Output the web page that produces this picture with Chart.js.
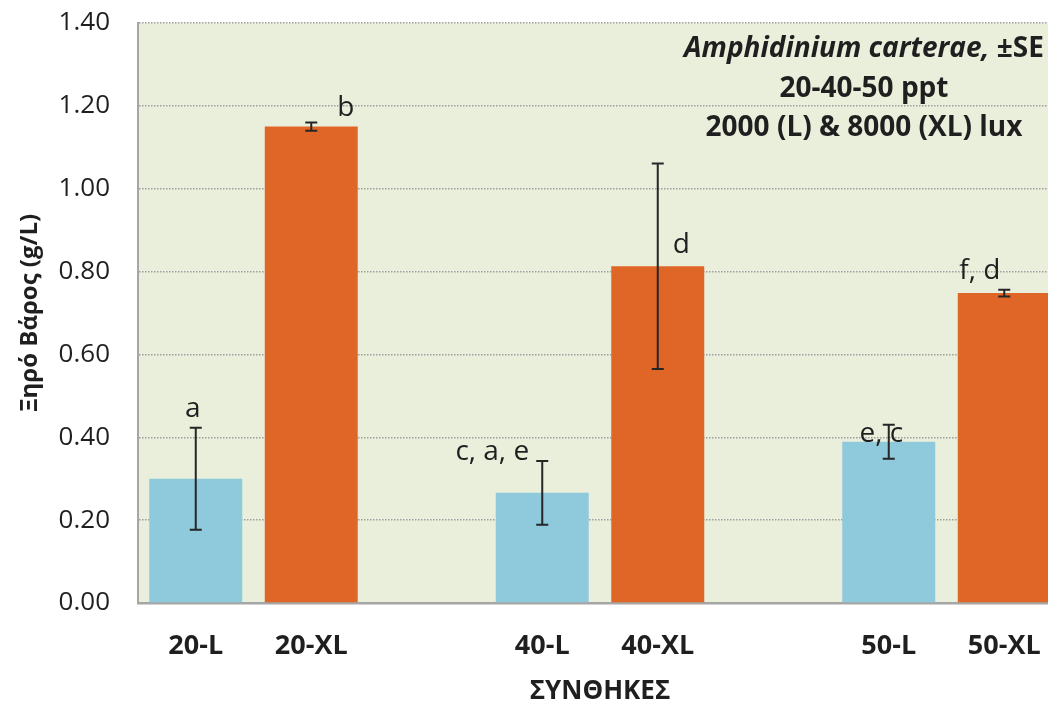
<!DOCTYPE html>
<html>
<head>
<meta charset="utf-8">
<script src="https://cdn.jsdelivr.net/npm/chart.js@4.4.1/dist/chart.umd.min.js"></script>
<style>
  html, body { margin: 0; padding: 0; overflow: hidden; background: #ffffff; }
  #wrap { position: relative; width: 1062px; height: 702px; }
</style>
</head>
<body>
<div id="wrap"><canvas id="chart"></canvas></div>
<script>
// Dry weight of Amphidinium carterae per salinity / light condition (blank slots separate the salinity groups)
const conditions   = ['20-L', '20-XL', '', '40-L', '40-XL', '', '50-L', '50-XL'];
const dryWeight    = [0.300, 1.150, null, 0.266, 0.813, null, 0.389, 0.748];
const stdError     = [0.123, 0.010, null, 0.077, 0.248, null, 0.041, 0.008];
const groupLetters = ['a', 'b', null, 'c, a, e', 'd', null, 'e, c', 'f, d'];
const yTickValues  = [0, 0.2, 0.4, 0.6, 0.8, 1.0, 1.2, 1.4];
const noteLines    = ['Amphidinium carterae,', '±SE', '20-40-50 ppt', '2000 (L) & 8000 (XL) lux'];

const FONT = "'Open Sans', 'Liberation Sans', sans-serif";
const LOW_LIGHT = '#8ECADB';
const HIGH_LIGHT = '#E06627';
const TEXT = '#1f1f1f';

const barColors = conditions.map(c => c.endsWith('XL') ? HIGH_LIGHT : LOW_LIGHT);

// Fills the plotting area with a pale olive tint
const plotBackground = {
  id: 'plotBackground',
  beforeDraw(chart) {
    const { ctx, chartArea: a } = chart;
    ctx.save();
    ctx.fillStyle = '#EAEFDC';
    ctx.fillRect(a.left, a.top, a.right - a.left, a.bottom - a.top);
    ctx.restore();
  }
};

// ±SE whiskers with short caps
const errorBars = {
  id: 'errorBars',
  afterDatasetsDraw(chart, args, opts) {
    const { ctx } = chart;
    const meta = chart.getDatasetMeta(0);
    const y = chart.scales.y;
    ctx.save();
    ctx.strokeStyle = opts.color;
    ctx.lineWidth = opts.width;
    stdError.forEach((se, i) => {
      if (se == null || dryWeight[i] == null) return;
      const x = meta.data[i].x;
      const top = y.getPixelForValue(dryWeight[i] + se);
      const bot = y.getPixelForValue(dryWeight[i] - se);
      const h = opts.cap / 2;
      ctx.beginPath();
      ctx.moveTo(x, top); ctx.lineTo(x, bot);
      ctx.moveTo(x - h, top); ctx.lineTo(x + h, top);
      ctx.moveTo(x - h, bot); ctx.lineTo(x + h, bot);
      ctx.stroke();
    });
    ctx.restore();
  }
};

// Significance-group letters, placed next to the top of each bar
const letterMarks = {
  id: 'letterMarks',
  afterDatasetsDraw(chart, args, opts) {
    const { ctx } = chart;
    const meta = chart.getDatasetMeta(0);
    ctx.save();
    ctx.font = `${opts.size}px ${FONT}`;
    ctx.fillStyle = TEXT;
    ctx.textAlign = 'center';
    ctx.textBaseline = 'alphabetic';
    groupLetters.forEach((txt, i) => {
      if (!txt) return;
      const bar = meta.data[i];
      const [dx, dy] = opts.offsets[i];
      ctx.fillText(txt, bar.x + dx, bar.y + dy);
    });
    ctx.restore();
  }
};

// Descriptive note in the upper right of the plot
const noteBox = {
  id: 'noteBox',
  afterDraw(chart, args, opts) {
    const { ctx, chartArea: a } = chart;
    const cx = a.right - opts.fromRight;
    const base = a.top;
    ctx.save();
    ctx.fillStyle = TEXT;
    ctx.textBaseline = 'alphabetic';
    ctx.textAlign = 'left';
    const italic = `italic bold ${opts.size}px ${FONT}`;
    const bold = `bold ${opts.size}px ${FONT}`;
    ctx.font = italic;
    const w1 = ctx.measureText(noteLines[0] + ' ').width;
    ctx.font = bold;
    const w2 = ctx.measureText(noteLines[1]).width;
    const x0 = cx - (w1 + w2) / 2;
    ctx.font = italic;
    ctx.fillText(noteLines[0] + ' ', x0, base + opts.lines[0]);
    ctx.font = bold;
    ctx.fillText(noteLines[1], x0 + w1, base + opts.lines[0]);
    ctx.textAlign = 'center';
    ctx.fillText(noteLines[2], cx, base + opts.lines[1]);
    ctx.fillText(noteLines[3], cx, base + opts.lines[2]);
    ctx.restore();
  }
};

new Chart(document.getElementById('chart'), {
  type: 'bar',
  data: {
    labels: conditions,
    datasets: [{
      data: dryWeight,
      backgroundColor: barColors,
      borderWidth: 0,
      barPercentage: 0.805,
      categoryPercentage: 1.0
    }]
  },
  options: {
    responsive: true,
    maintainAspectRatio: false,
    animation: false,
    layout: { padding: { top: 23, right: 0, bottom: 0, left: 0 } },
    plugins: {
      legend: { display: false },
      tooltip: { enabled: false },
      errorBars: { color: '#262626', width: 2, cap: 12 },
      letterMarks: {
        size: 28,
        offsets: [[-3, -62], [34.5, -11], null, [-50, -32.5], [23.5, -13.3], null, [-7.5, 0], [-24.5, -13.7]]
      },
      noteBox: { size: 28, fromRight: 198, lines: [34, 74, 113] }
    },
    scales: {
      x: {
        grid: { display: false },
        border: { display: true, color: '#A6A6A6', width: 2.5 },
        ticks: {
          color: TEXT,
          font: { family: FONT, size: 27, weight: 'bold' },
          padding: 19,
          maxRotation: 0,
          autoSkip: false
        },
        title: {
          display: true,
          text: 'ΣΥΝΘΗΚΕΣ',
          color: TEXT,
          font: { family: FONT, size: 26, weight: 'bold' },
          padding: { top: 0, bottom: -5 }
        },
        afterFit(scale) { scale.height = 99; }
      },
      y: {
        min: 0,
        max: 1.4,
        afterBuildTicks(scale) { scale.ticks = yTickValues.map(v => ({ value: v })); },
        grid: { color: '#9E9E9E', lineWidth: 1.5, drawTicks: false },
        border: { display: true, color: '#A6A6A6', width: 2, dash: [1.5, 1.5] },
        ticks: {
          color: TEXT,
          font: { family: FONT, size: 26 },
          padding: 28,
          callback: v => Number(v).toFixed(2)
        },
        title: {
          display: true,
          text: 'Ξηρό Βάρος (g/L)',
          color: TEXT,
          font: { family: FONT, size: 24, weight: 'bold' },
          padding: { top: 15.6, bottom: 0 }
        },
        afterFit(scale) {
          scale.width = 138;
          scale.paddingTop = 0;
          scale.paddingBottom = 0;
        }
      }
    }
  },
  plugins: [plotBackground, errorBars, letterMarks, noteBox]
});
</script>
</body>
</html>
